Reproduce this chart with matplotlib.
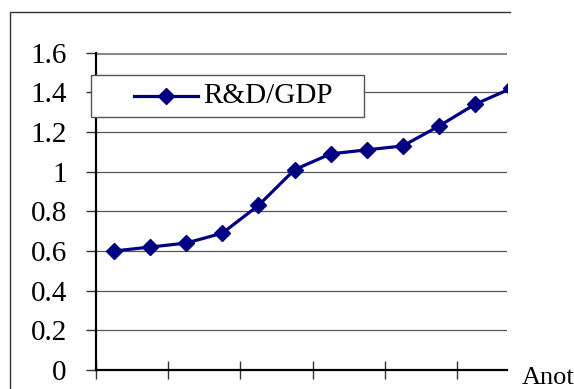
import matplotlib.pyplot as plt
from matplotlib.lines import Line2D
from matplotlib.patches import Rectangle

# R&D spending as share of GDP (%), one point per year
years = list(range(12))
rd_gdp = [0.60, 0.62, 0.64, 0.69, 0.83, 1.01, 1.09, 1.11, 1.13, 1.23, 1.34, 1.42]
yticks = [0, 0.2, 0.4, 0.6, 0.8, 1, 1.2, 1.4, 1.6]
ytick_labels = ['0', '0.2', '0.4', '0.6', '0.8', '1', '1.2', '1.4', '1.6']

plt.rcParams['font.family'] = ['Liberation Serif', 'DejaVu Serif']

W, H = 574, 389
fig = plt.figure(figsize=(W / 100, H / 100), dpi=100)

# plot area in pixel terms
left, right, top, bottom = 96, 507, 52.7, 370
ax = fig.add_axes([left / W, (H - bottom) / H, (right - left) / W, (bottom - top) / H])

ax.plot(years, rd_gdp, color='#000080', lw=2.3, marker='D', ms=8.5,
        mfc='#000080', mec='#000080', label='R&D/GDP', clip_on=True)

ax.set_ylim(0, 1.6)
ax.set_xlim(-0.5, (right - left) / 36.1 - 0.5)
ax.set_yticks(yticks)
ax.set_yticklabels(ytick_labels, fontsize=21)
ax.set_xticks([-0.5, 1.5, 3.5, 5.5, 7.5, 9.5])
ax.set_xticklabels([])
ax.tick_params(axis='y', direction='out', length=7, width=1, pad=14, color='#333333')
ax.tick_params(axis='x', direction='inout', length=13, width=1, color='#333333')

for v in yticks[1:-1]:
    ax.axhline(v, color='#555555', lw=0.9, zorder=0)
ax.axhline(1.6, color='#888888', lw=2.2, zorder=0)

for s in ['top', 'right']:
    ax.spines[s].set_visible(False)
ax.spines['left'].set_linewidth(1.6)
ax.spines['bottom'].set_linewidth(1.6)
ax.spines['left'].set_color('black')
ax.spines['bottom'].set_color('black')

# legend box
fig.patches.append(Rectangle((91 / W, (H - 117) / H), 273 / W, 42 / H,
                             transform=fig.transFigure, facecolor='white',
                             edgecolor='#555555', lw=1, zorder=5))
fig.lines.append(Line2D([134 / W, 198 / W], [(H - 96) / H] * 2, transform=fig.transFigure,
                        color='#000080', lw=2.3, marker=None, zorder=6))
fig.lines.append(Line2D([166 / W], [(H - 96) / H], transform=fig.transFigure,
                        color='#000080', marker='D', ms=8.5, zorder=6))
fig.text(203 / W, (H - 96) / H, 'R&D/GDP', fontsize=21, va='center', ha='left', zorder=7)

# outer chart border
fig.lines.append(Line2D([9.5 / W, 9.5 / W, 510 / W], [0, (H - 12) / H, (H - 12) / H],
                        transform=fig.transFigure, color='#333333', lw=1))

fig.text(522 / W, (H - 384) / H, 'Anot', fontsize=19, va='baseline', ha='left')

fig.savefig('out.png', dpi=100)
